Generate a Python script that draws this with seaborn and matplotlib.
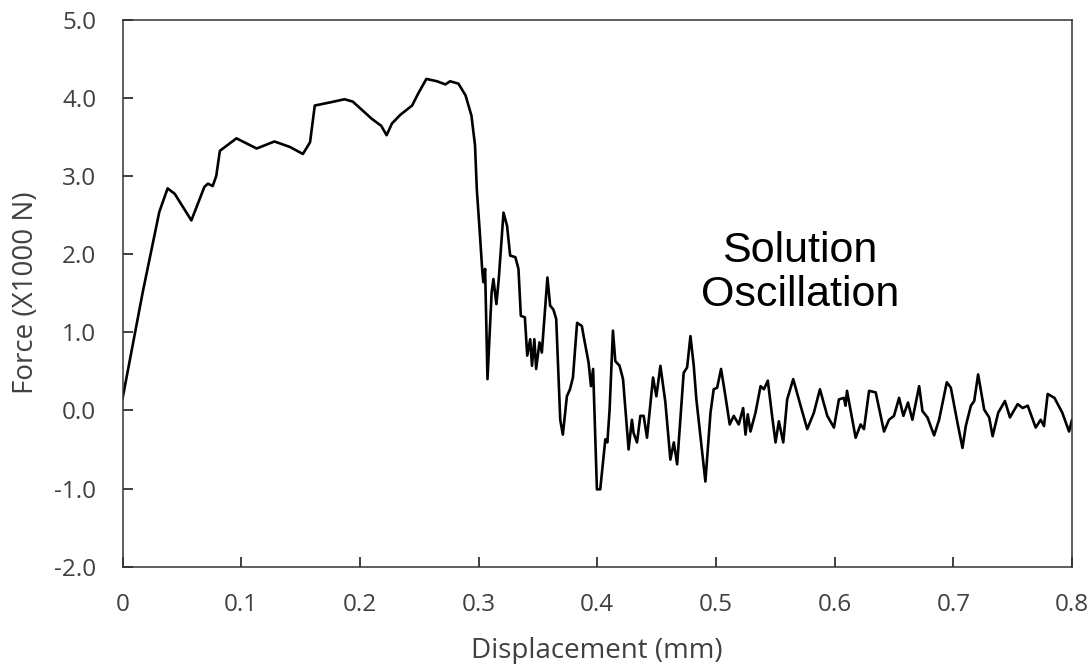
import numpy as np
import pandas as pd
import matplotlib
matplotlib.use("Agg")
import matplotlib.pyplot as plt
import seaborn as sns

# ---- data ----
displacement_mm = [
    0.000, 0.017, 0.031, 0.038, 0.044, 0.058, 0.069, 0.072, 0.076, 0.079,
    0.082, 0.096, 0.113, 0.128, 0.141, 0.152, 0.158, 0.162, 0.175, 0.187,
    0.194, 0.210, 0.218, 0.2225, 0.227, 0.234, 0.244, 0.249, 0.256, 0.265,
    0.272, 0.276, 0.283, 0.289, 0.294, 0.297, 0.2985, 0.301, 0.3030, 0.3040,
    0.3055, 0.3075, 0.311, 0.3125, 0.315, 0.317, 0.321, 0.324, 0.3266, 0.331,
    0.3336, 0.3356, 0.339, 0.341, 0.3435, 0.345, 0.347, 0.3485, 0.3513, 0.3533,
    0.358, 0.3603, 0.363, 0.3654, 0.3688, 0.371, 0.3744, 0.377, 0.3795, 0.383,
    0.387, 0.3885, 0.3927, 0.3947, 0.3965, 0.3997, 0.4025, 0.4068, 0.4085, 0.4104,
    0.4132, 0.4152, 0.4188, 0.4217, 0.4264, 0.4292, 0.4306, 0.4335, 0.4363, 0.4391,
    0.4419, 0.4470, 0.4498, 0.4532, 0.4574, 0.4616, 0.4645, 0.4673, 0.4728, 0.4757,
    0.4785, 0.4813, 0.4835, 0.4911, 0.4954, 0.4981, 0.5010, 0.5043, 0.5080, 0.5116,
    0.5150, 0.5192, 0.5229, 0.5249, 0.5268, 0.5291, 0.5333, 0.5376, 0.5404, 0.5437,
    0.5473, 0.5502, 0.5530, 0.5567, 0.5600, 0.5651, 0.5713, 0.5769, 0.5825, 0.5876,
    0.5938, 0.5994, 0.6036, 0.6078, 0.6092, 0.6104, 0.6177, 0.6219, 0.6247, 0.6290,
    0.6346, 0.6416, 0.6458, 0.6500, 0.6543, 0.6579, 0.6618, 0.6655, 0.6712, 0.6740,
    0.6782, 0.6838, 0.6880, 0.6945, 0.6979, 0.7035, 0.7077, 0.7105, 0.7148, 0.7176,
    0.7209, 0.7260, 0.7302, 0.7331, 0.7378, 0.7435, 0.7477, 0.7542, 0.7584, 0.7627,
    0.7694, 0.7736, 0.7764, 0.7795, 0.7852, 0.7918, 0.7975, 0.8000,
]
force_kN = [
    0.15, 1.51, 2.54, 2.84, 2.77, 2.43, 2.86, 2.90, 2.87, 3.00,
    3.32, 3.48, 3.35, 3.44, 3.37, 3.28, 3.43, 3.90, 3.94, 3.98,
    3.95, 3.73, 3.64, 3.52, 3.67, 3.78, 3.90, 4.05, 4.24, 4.21,
    4.17, 4.21, 4.18, 4.03, 3.77, 3.39, 2.83, 2.28, 1.81, 1.64,
    1.81, 0.40, 1.51, 1.68, 1.36, 1.68, 2.53, 2.36, 1.98, 1.96,
    1.81, 1.21, 1.19, 0.70, 0.91, 0.57, 0.91, 0.53, 0.87, 0.74,
    1.70, 1.34, 1.29, 1.17, -0.12, -0.31, 0.18, 0.27, 0.42, 1.12,
    1.08, 0.95, 0.61, 0.31, 0.53, -1.01, -1.01, -0.37, -0.41, 0.01,
    1.02, 0.63, 0.57, 0.40, -0.50, -0.12, -0.29, -0.41, -0.07, -0.07,
    -0.35, 0.42, 0.18, 0.57, 0.10, -0.63, -0.41, -0.69, 0.48, 0.55,
    0.95, 0.57, 0.14, -0.91, -0.03, 0.27, 0.29, 0.53, 0.18, -0.18,
    -0.07, -0.18, 0.03, -0.31, -0.05, -0.27, -0.03, 0.31, 0.27, 0.38,
    -0.07, -0.41, -0.14, -0.41, 0.14, 0.40, 0.06, -0.24, -0.03, 0.27,
    -0.07, -0.22, 0.14, 0.16, 0.06, 0.25, -0.35, -0.18, -0.24, 0.25,
    0.23, -0.27, -0.12, -0.07, 0.16, -0.07, 0.10, -0.12, 0.31, -0.01,
    -0.09, -0.32, -0.12, 0.36, 0.29, -0.16, -0.48, -0.20, 0.06, 0.12,
    0.46, 0.01, -0.09, -0.33, -0.03, 0.12, -0.09, 0.08, 0.03, 0.06,
    -0.22, -0.12, -0.20, 0.21, 0.16, -0.03, -0.27, -0.12,
]
x_ticks = [0, 0.1, 0.2, 0.3, 0.4, 0.5, 0.6, 0.7, 0.8]
x_tick_labels = ["0", "0.1", "0.2", "0.3", "0.4", "0.5", "0.6", "0.7", "0.8"]
y_ticks = [-2.0, -1.0, 0.0, 1.0, 2.0, 3.0, 4.0, 5.0]
y_tick_labels = ["-2.0", "-1.0", "0.0", "1.0", "2.0", "3.0", "4.0", "5.0"]

df = pd.DataFrame({"Displacement": displacement_mm, "Force": force_kN})

sns.set_theme(style="white")
plt.rcParams["font.family"] = ["Open Sans", "DejaVu Sans"]

fig = plt.figure(figsize=(10.91, 6.64), dpi=100)
ax = fig.add_axes([0.1123, 0.1465, 0.9826 - 0.1123, 0.9706 - 0.1465])

sns.lineplot(data=df, x="Displacement", y="Force", ax=ax, sort=False,
             estimator=None, color="black", linewidth=1.9)
for ln in ax.get_lines():
    ln.set_solid_joinstyle("round")

ax.set_xlim(0, 0.8)
ax.set_ylim(-2.0, 5.0)
ax.set_xticks(x_ticks)
ax.set_xticklabels(x_tick_labels)
ax.set_yticks(y_ticks)
ax.set_yticklabels(y_tick_labels)

txt_col = "#404040"
ax.tick_params(axis="both", direction="in", length=7, width=1.3,
               color="#333333", labelcolor=txt_col, labelsize=17.5,
               bottom=True, left=True, top=False, right=False)
ax.tick_params(axis="x", pad=19)
ax.tick_params(axis="y", pad=19)
for s in ax.spines.values():
    s.set_color("#333333")
    s.set_linewidth(1.1)
    s.set_visible(True)

ax.set_xlabel("Displacement (mm)", fontsize=20, color=txt_col, labelpad=14)
ax.set_ylabel("Force (X1000 N)", fontsize=20, color=txt_col, labelpad=10)

ax.text(0.5705, 1.76, "Solution\nOscillation", ha="center", va="center",
        fontsize=31, family=["Liberation Sans", "DejaVu Sans"],
        color="black", linespacing=1.12)

fig.savefig("out.png", dpi=100)
